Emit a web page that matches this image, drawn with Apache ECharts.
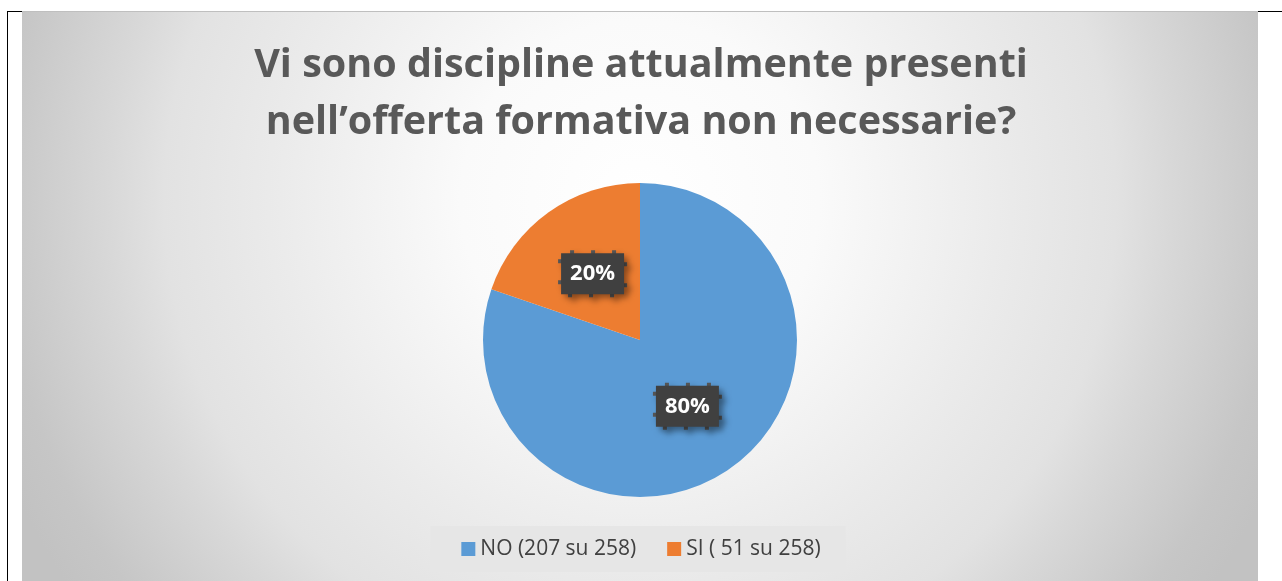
<!DOCTYPE html>
<html>
<head>
<meta charset="utf-8">
<style>
  html, body { margin: 0; padding: 0; background: #ffffff; }
  #chart { width: 1282px; height: 581px; }
</style>
<script src="https://cdn.jsdelivr.net/npm/echarts@6/dist/echarts.min.js"></script>
</head>
<body>
<div id="chart"></div>
<script>
// Survey answers
const titleLines = ['Vi sono discipline attualmente presenti', 'nell\u2019offerta formativa non necessarie?'];
const categories = ['NO (207 su 258)', 'SI ( 51 su 258)'];
const answers = [207, 51];
const sliceColors = ['#5b9bd5', '#ed7d31'];

const chart = echarts.init(document.getElementById('chart'), null, { renderer: 'canvas' });

const panel = { x: 22, y: 11, w: 1236, h: 570 };

chart.setOption({
  backgroundColor: '#ffffff',
  animation: false,
  graphic: [
    {
      type: 'rect', silent: true, z: -10,
      shape: { x: panel.x, y: panel.y, width: panel.w, height: panel.h },
      style: {
        fill: {
          type: 'radial', global: true, x: 640, y: 200, r: 690,
          colorStops: [
            { offset: 0, color: '#ffffff' },
            { offset: 0.26, color: '#fafafa' },
            { offset: 0.52, color: '#ebebeb' },
            { offset: 0.69, color: '#e2e2e2' },
            { offset: 0.77, color: '#d8d8d8' },
            { offset: 0.93, color: '#c6c6c6' },
            { offset: 1, color: '#c2c2c2' }
          ]
        }
      }
    },
    // panel top edge
    { type: 'line', silent: true, z: -5,
      shape: { x1: panel.x, y1: 11.5, x2: panel.x + panel.w, y2: 11.5 },
      style: { stroke: '#bfbfbf', lineWidth: 1 } },
    // page frame lines
    { type: 'line', silent: true,
      shape: { x1: 7.5, y1: 11, x2: 7.5, y2: 581 },
      style: { stroke: '#000000', lineWidth: 1 } },
    { type: 'line', silent: true,
      shape: { x1: 7, y1: 11.5, x2: 22, y2: 11.5 },
      style: { stroke: '#000000', lineWidth: 1 } },
    { type: 'line', silent: true,
      shape: { x1: 1258, y1: 11.5, x2: 1282, y2: 11.5 },
      style: { stroke: '#000000', lineWidth: 1 } }
  ],
  title: {
    text: titleLines.join('\n'),
    left: 'center',
    top: 32,
    textStyle: {
      fontFamily: 'Open Sans',
      fontWeight: 'bold',
      fontSize: 39.5,
      lineHeight: 57,
      color: '#595959'
    }
  },
  legend: {
    data: categories,
    left: 'center',
    top: 526,
    orient: 'horizontal',
    icon: 'rect',
    itemWidth: 14,
    itemHeight: 14,
    itemGap: 31,
    padding: [12, 25, 12, 31],
    backgroundColor: '#e6e6e6',
    textStyle: {
      fontFamily: 'Open Sans',
      fontSize: 21,
      lineHeight: 22,
      color: '#404040'
    }
  },
  series: [{
    type: 'pie',
    center: [640, 340],
    radius: 157,
    startAngle: 90,
    clockwise: true,
    percentPrecision: 0,
    emphasis: { disabled: true },
    data: categories.map((name, i) => ({
      name: name,
      value: answers[i],
      itemStyle: { color: sliceColors[i] }
    })),
    label: {
      show: true,
      position: 'inside',
      formatter: '{d}%',
      fontFamily: 'Open Sans',
      fontWeight: 'bold',
      fontSize: 22,
      lineHeight: 22,
      color: '#ffffff',
      backgroundColor: '#404040',
      borderColor: '#555555',
      borderWidth: 3,
      borderType: [4, 17],
      borderDashOffset: -9,
      padding: [10, 9, 9, 9],
      shadowColor: 'rgba(0,0,0,0.4)',
      shadowBlur: 6,
      shadowOffsetX: 4,
      shadowOffsetY: 4
    },
    labelLine: { show: false }
  }]
});
</script>
</body>
</html>
